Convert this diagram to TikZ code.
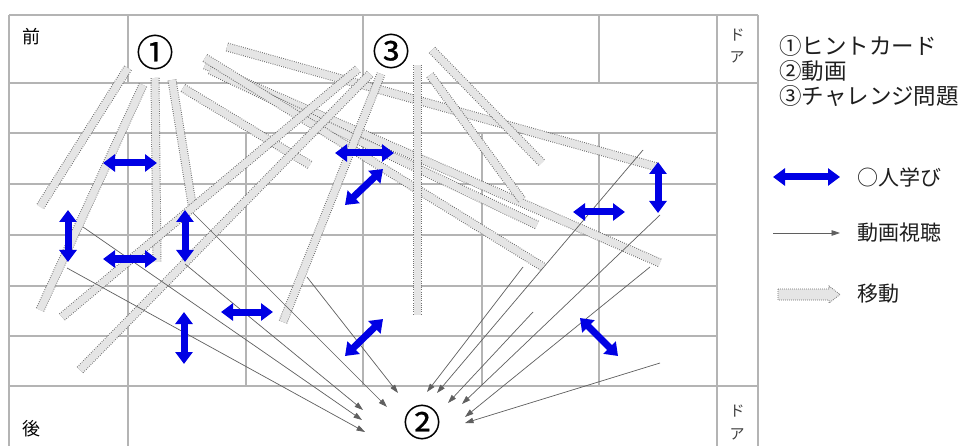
\documentclass[tikz,border=0pt]{standalone}
\usepackage{fontspec}
\newfontfamily\jp{Noto Sans CJK JP}
\newfontfamily\jpnum[FakeBold=0.6]{Noto Sans CJK JP}
\usetikzlibrary{arrows.meta}
\definecolor{gridc}{RGB}{180,180,180}
\definecolor{movefill}{RGB}{229,229,229}
\definecolor{moveedge}{RGB}{110,110,110}
\definecolor{pairblue}{RGB}{0,0,228}
\definecolor{watchc}{RGB}{95,95,95}
\definecolor{txt}{RGB}{30,30,30}
\begin{document}
\begin{tikzpicture}[x=1pt,y=-1pt,
  gridline/.style={draw=gridc,line width=1.1pt},
  movebar/.style={draw=moveedge,line width=9pt,dash pattern=on 0.9pt off 1.3pt,
    postaction={draw=movefill,line width=7pt,solid}},
  pairarrow/.style={draw=pairblue,line width=7pt,
    {Triangle[width=17pt,length=12pt]}-{Triangle[width=17pt,length=12pt]}},
  watch/.style={draw=watchc,line width=0.7pt,-{Triangle[width=5.5pt,length=8.5pt]}},
  bignum/.style={font=\jpnum\fontsize{37}{37}\selectfont,inner sep=0pt,text=black},
  roomlbl/.style={font=\jp\fontsize{18}{18}\selectfont,inner sep=0pt,text=black},
  doorlbl/.style={font=\jp\fontsize{15}{15}\selectfont,inner sep=0pt,text=black!75},
  legbig/.style={font=\jp\fontsize{22.5}{22.5}\selectfont,inner sep=0pt,anchor=west,text=txt},
  legtxt/.style={font=\jp\fontsize{21}{21}\selectfont,inner sep=0pt,anchor=west,text=txt}]
\useasboundingbox (0,0) rectangle (971,446);
\fill[white] (0,0) rectangle (971,446);
% ---- grid of the room
\draw[gridline] (9,15) -- (758,15);
\draw[gridline] (9,83) -- (758,83);
\foreach \yy in {133,184,235,286,336} \draw[gridline] (9,\yy) -- (717,\yy);
\draw[gridline] (9,386) -- (758,386);
\draw[gridline] (9,15) -- (9,446);
\draw[gridline] (717,15) -- (717,446);
\draw[gridline] (758,15) -- (758,446);
\draw[gridline] (128,15) -- (128,83);
\draw[gridline] (128,133) -- (128,446);
\draw[gridline] (363,15) -- (363,83);
\draw[gridline] (599,15) -- (599,83);
\foreach \xx in {246,363,482,599} \draw[gridline] (\xx,133) -- (\xx,386);
% ---- room labels
\node[roomlbl] (front) at (31,37) {前};
\node[roomlbl] (back) at (31,429) {後};
\node[doorlbl] (doorTa) at (737,35) {ド};
\node[doorlbl] (doorTb) at (737,57) {ア};
\node[doorlbl] (doorBa) at (737,411) {ド};
\node[doorlbl] (doorBb) at (737,434) {ア};
% ---- movement bars
\foreach \n/\p/\q in {
  6/{227,47}/{657,167},
  8/{205,65}/{660,263},
  9/{210,70}/{537,225},
  7/{205,58}/{543,267},
  5/{183,88}/{310,165},
  1/{128,68}/{40,207},
  2/{143,85}/{40,310},
  3/{155,78}/{157,262},
  4/{172,80}/{193,210},
  10/{62,317}/{358,69},
  11/{80,370}/{370,74},
  12/{283,322}/{381,74},
  13/{417,65}/{417,315},
  14/{432,50}/{542,163},
  15/{430,75}/{522,200}}
{\coordinate (ms\n) at (\p); \coordinate (me\n) at (\q);
 \draw[movebar] (ms\n) -- (me\n);}
% ---- circled labels
\node[bignum] (c1) at (155,52) {①};
\node[bignum] (c3) at (391,51) {③};
\node[bignum] (c2) at (422,422) {②};
% ---- video watching arrows
\foreach \n/\p/\q in {
  1/{83,227}/{362,420},
  2/{67,268}/{365,432},
  3/{193,213}/{387,407},
  4/{185,264}/{363,410},
  5/{307,277}/{398,393},
  6/{523,267}/{427,392},
  7/{643,150}/{437,393},
  8/{533,312}/{448,403},
  9/{660,215}/{462,404},
  10/{650,267}/{465,417},
  11/{660,363}/{465,423}}
{\coordinate (ws\n) at (\p); \coordinate (we\n) at (\q);
 \draw[watch] (ws\n) -- (we\n);}
% ---- pair learning arrows
\foreach \n/\p/\q in {
  1/{103,163}/{157,163},
  2/{68,210}/{68,262},
  3/{185,210}/{185,262},
  4/{103,259}/{157,259},
  5/{184,312}/{184,364},
  6/{221,312}/{273,312},
  7/{335,153}/{394,153},
  8/{345,205}/{383,169},
  9/{345,356}/{383,319},
  10/{573,212}/{625,212},
  11/{658,162}/{658,213},
  12/{580,318}/{618,356}}
{\coordinate (ps\n) at (\p); \coordinate (pe\n) at (\q);
 \draw[pairarrow] (ps\n) -- (pe\n);}
% ---- legend
\node[legbig] (l1) at (779,46) {①ヒントカード};
\node[legbig] (l2) at (779,71) {②動画};
\node[legbig] (l3) at (779,96) {③チャレンジ問題};
\coordinate (lpa) at (773,177); \coordinate (lpb) at (840,177);
\draw[pairarrow] (lpa) -- (lpb);
\node[legtxt] (lp) at (857,177) {○人学び};
\coordinate (lwa) at (773,233); \coordinate (lwb) at (840,233);
\draw[watch] (lwa) -- (lwb);
\node[legtxt] (lw) at (857,233) {動画視聴};
\draw[draw=moveedge,fill=movefill,line width=0.8pt,dash pattern=on 0.8pt off 1.2pt]
  (778,289) -- (829,289) -- (829,286) -- (840,294.5) -- (829,303) -- (829,300) -- (778,300) -- cycle;
\node[legtxt] (lm) at (857,294) {移動};
\end{tikzpicture}
\end{document}
